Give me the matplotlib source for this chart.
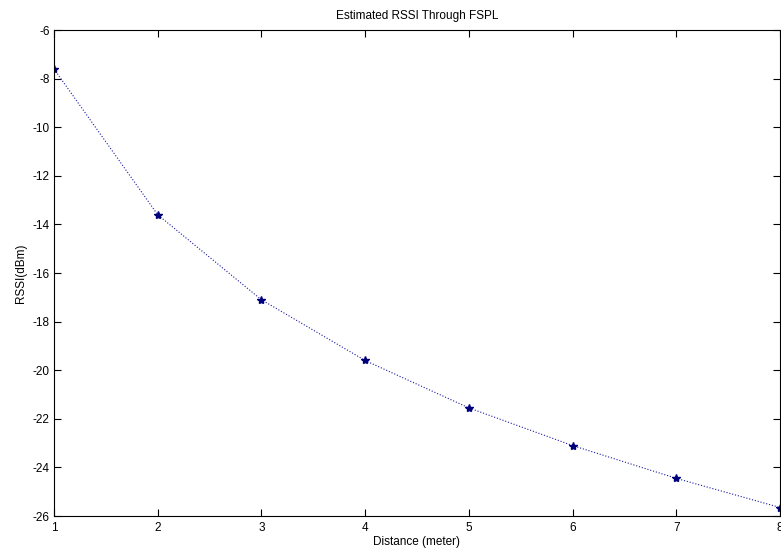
import matplotlib
matplotlib.use("Agg")
import matplotlib.pyplot as plt

distance = [1, 2, 3, 4, 5, 6, 7, 8]
rssi = [-7.6, -13.6, -17.1, -19.6, -21.55, -23.1, -24.45, -25.65]
xticks = [1, 2, 3, 4, 5, 6, 7, 8]
yticks = [-26, -24, -22, -20, -18, -16, -14, -12, -10, -8, -6]

plt.rcParams['font.family'] = ['Liberation Sans', 'DejaVu Sans']
plt.rcParams['axes.unicode_minus'] = False
fig = plt.figure(figsize=(7.81, 5.51), dpi=100)
ax = fig.add_axes([0.0691, 0.0635, 0.9296, 0.882])
ax.plot(distance, rssi, linestyle=':', color='#1a1aa0', linewidth=0.8,
        marker='*', markersize=6, markerfacecolor='#00007a', markeredgecolor='#00007a')
ax.set_xlim(1, 8)
ax.set_ylim(-26, -6)
ax.set_xticks(xticks)
ax.set_yticks(yticks)
ax.tick_params(axis='x', pad=4)
ax.tick_params(axis='y', pad=3)
ax.tick_params(direction='in', top=True, right=True, labelsize=8.5, length=5, width=0.8)
for s in ax.spines.values():
    s.set_linewidth(0.8)
ax.set_title('Estimated RSSI Through FSPL', fontsize=8.5, pad=8)
ax.set_xlabel('Distance (meter)', fontsize=8.5, labelpad=2)
ax.set_ylabel('RSSI(dBm)', fontsize=8.5, labelpad=4)
fig.savefig('out.png', dpi=100)
